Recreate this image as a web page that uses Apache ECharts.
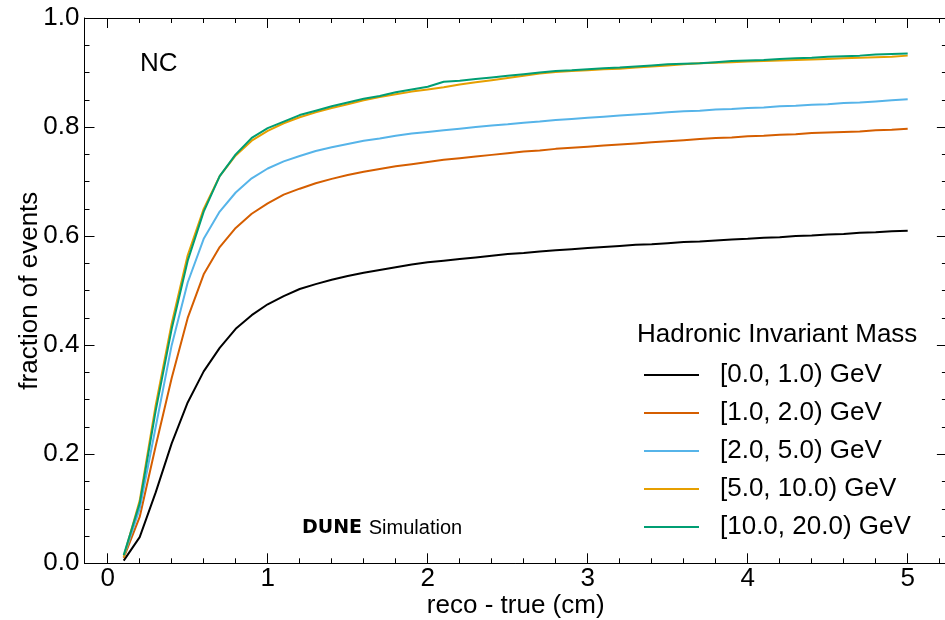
<!DOCTYPE html>
<html>
<head>
<meta charset="utf-8">
<script src="https://cdn.jsdelivr.net/npm/echarts@6/dist/echarts.min.js"></script>
<style>html,body{margin:0;padding:0;background:#fff}#c{width:945px;height:620px}</style>
</head>
<body>
<div id="c"></div>
<script>
const xs = [0.1,0.2,0.3,0.4,0.5,0.6,0.7,0.8,0.9,1.0,1.1,1.2,1.3,1.4,1.5,1.6,1.7,1.8,1.9,2.0,2.1,2.2,2.3,2.4,2.5,2.6,2.7,2.8,2.9,3.0,3.1,3.2,3.3,3.4,3.5,3.6,3.7,3.8,3.9,4.0,4.1,4.2,4.3,4.4,4.5,4.6,4.7,4.8,4.9,5.0];
const seriesNames = ["[0.0, 1.0) GeV","[1.0, 2.0) GeV","[2.0, 5.0) GeV","[5.0, 10.0) GeV","[10.0, 20.0) GeV"];
const m0_1 = [0.005,0.048,0.13,0.22,0.295,0.352,0.395,0.43,0.455,0.475,0.49,0.503,0.512,0.52,0.527,0.533,0.538,0.543,0.548,0.552,0.555,0.558,0.561,0.564,0.567,0.569,0.572,0.574,0.576,0.578,0.58,0.582,0.584,0.585,0.587,0.589,0.59,0.592,0.594,0.595,0.597,0.598,0.6,0.601,0.603,0.604,0.606,0.607,0.609,0.61];
const m1_2 = [0.01,0.085,0.215,0.34,0.45,0.53,0.58,0.615,0.641,0.66,0.676,0.687,0.697,0.705,0.712,0.718,0.723,0.728,0.732,0.736,0.74,0.743,0.746,0.749,0.752,0.755,0.757,0.76,0.762,0.764,0.766,0.768,0.77,0.772,0.774,0.776,0.778,0.78,0.781,0.783,0.784,0.786,0.787,0.789,0.79,0.791,0.792,0.794,0.795,0.797];
const m2_5 = [0.012,0.1,0.25,0.4,0.515,0.595,0.645,0.68,0.706,0.724,0.737,0.747,0.756,0.763,0.769,0.775,0.779,0.784,0.788,0.791,0.794,0.797,0.8,0.803,0.805,0.808,0.81,0.813,0.815,0.817,0.819,0.821,0.823,0.825,0.827,0.829,0.83,0.832,0.833,0.835,0.836,0.838,0.839,0.841,0.842,0.844,0.845,0.847,0.849,0.851];
const m5_10 = [0.012,0.115,0.29,0.44,0.565,0.65,0.71,0.748,0.775,0.793,0.807,0.818,0.827,0.835,0.842,0.849,0.855,0.86,0.865,0.869,0.873,0.878,0.882,0.886,0.89,0.894,0.898,0.901,0.903,0.904,0.906,0.907,0.909,0.911,0.913,0.915,0.917,0.918,0.919,0.92,0.921,0.922,0.923,0.924,0.925,0.926,0.927,0.928,0.929,0.931];
const m10_20 = [0.015,0.11,0.28,0.43,0.555,0.645,0.71,0.75,0.78,0.798,0.81,0.822,0.83,0.838,0.845,0.852,0.857,0.864,0.869,0.874,0.883,0.885,0.888,0.891,0.894,0.897,0.9,0.903,0.904,0.906,0.908,0.909,0.911,0.913,0.915,0.916,0.917,0.919,0.921,0.922,0.923,0.925,0.926,0.927,0.929,0.93,0.931,0.933,0.934,0.935];
const xMajor = [0,1,2,3,4,5];
const xMinor = [0.2,0.4,0.6,0.8,1.2,1.4,1.6,1.8,2.2,2.4,2.6,2.8,3.2,3.4,3.6,3.8,4.2,4.4,4.6,4.8,5.2];
const colors = ["#000000","#D55E00","#56B4E9","#E69F00","#009E73"];
const allData = [m0_1,m1_2,m2_5,m5_10,m10_20];

const FONT = "Liberation Sans, Arial, sans-serif";
const XMIN = -0.145, XMAX = 5.245;
const tickStyle = {color:'#000', width:1};

function xAx(pos, vals, len, showLine, showLabel, extra) {
  return Object.assign({
    type:'value', position:pos, min:XMIN, max:XMAX, gridIndex:0,
    axisLine:{show:showLine, onZero:false, lineStyle:{color:'#000', width:1}},
    axisTick:{show:true, inside:true, length:len, customValues:vals, lineStyle:tickStyle},
    axisLabel:{show:showLabel, customValues:vals, color:'#000', fontSize:26, fontFamily:FONT, margin:3,
      formatter:v=>String(Math.round(v))},
    splitLine:{show:false}
  }, extra||{});
}
function yAx(pos, showLabel, extra) {
  return Object.assign({
    type:'value', position:pos, min:0, max:1, interval:0.2,
    axisLine:{show:true, onZero:false, lineStyle:{color:'#000', width:1}},
    axisTick:{show:true, inside:true, length:10, lineStyle:tickStyle},
    minorTick:{show:true, splitNumber:4, length:5, lineStyle:tickStyle},
    axisLabel:{show:showLabel, color:'#000', fontSize:26, fontFamily:FONT, margin:5,
      formatter:v=>v.toFixed(1)},
    splitLine:{show:false}, minorSplitLine:{show:false}
  }, extra||{});
}

const chart = echarts.init(document.getElementById('c'), null, {renderer:'canvas'});
chart.setOption({
  animation:false,
  backgroundColor:'#fff',
  grid:{left:84.5, top:18, width:862.4, height:545.3, containLabel:false, outerBoundsMode:'none'},
  xAxis:[
    xAx('bottom', xMajor, 10, true, true, {name:'reco - true (cm)', nameLocation:'middle', nameGap:30,
      nameMoveOverlap:false, nameTextStyle:{color:'#000', fontSize:26, fontFamily:FONT}}),
    xAx('bottom', xMinor, 5, false, false),
    xAx('top', xMajor, 10, true, false),
    xAx('top', xMinor, 5, false, false)
  ],
  yAxis:[
    yAx('left', true, {name:'fraction of events', nameLocation:'middle', nameGap:42,
      nameMoveOverlap:false, nameTextStyle:{color:'#000', fontSize:26, fontFamily:FONT}}),
    yAx('right', false)
  ],
  legend:{
    orient:'vertical', left:639, top:356,
    icon:'rect', itemWidth:55, itemHeight:2, itemGap:10,
    textStyle:{color:'#000', fontSize:26, fontFamily:FONT, lineHeight:28, padding:[0,0,0,16]},
    data:seriesNames
  },
  graphic:[
    {type:'text', left:637, top:322, style:{text:'Hadronic Invariant Mass', fill:'#000', font:'26px '+FONT}},
    {type:'text', left:140, top:51, style:{text:'NC', fill:'#000', font:'26px '+FONT}},
    {type:'text', left:302, top:518, style:{
      text:'{b|DUNE}  {r|Simulation}',
      rich:{b:{fontSize:19, fontWeight:'bold', fontFamily:'DejaVu Sans, '+FONT, fill:'#000'},
            r:{fontSize:20, fontFamily:FONT, fill:'#000'}}}}
  ],
  series: allData.map((d,i)=>({
    name:seriesNames[i], type:'line', xAxisIndex:0, yAxisIndex:0,
    data: xs.map((x,j)=>[x,d[j]]),
    showSymbol:false, symbol:'none', smooth:false,
    lineStyle:{color:colors[i], width:2}, itemStyle:{color:colors[i]},
    z:2+i
  }))
});
</script>
</body>
</html>
